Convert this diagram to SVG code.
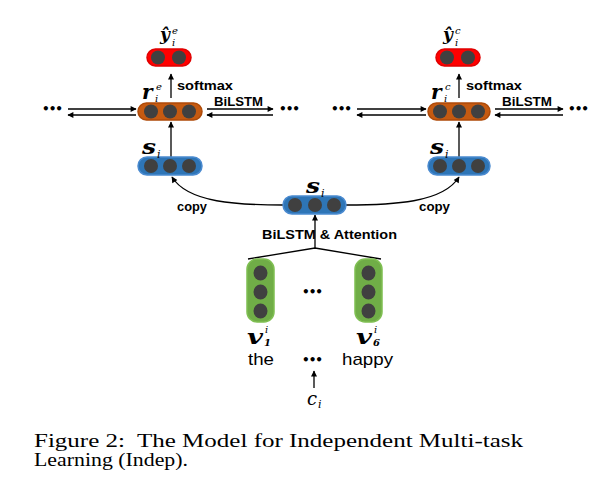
<svg xmlns="http://www.w3.org/2000/svg" width="599" height="492" viewBox="0 0 599 492">
<style>
.red{fill:#ff0000;stroke:#e00000;stroke-width:1.5}
.org{fill:#c55a11;stroke:#ae4a08;stroke-width:1.5}
.blu{fill:#2e75b6;stroke:#4a8ad0;stroke-width:1.5}
.grn{fill:#70ad47;stroke:#7fbf52;stroke-width:1.5}
.dot{fill:#404040}
.ln{stroke:#000;stroke-width:1.3;fill:none}
.lbl{font-family:"Liberation Sans",Arial,sans-serif;font-weight:bold;font-size:13px;fill:#000}
.word{font-family:"Liberation Sans",Arial,sans-serif;font-size:17px;fill:#000}
.m{font-family:"DejaVu Serif","Liberation Serif",serif;font-style:italic;font-weight:bold;fill:#000}
.mi{font-family:"DejaVu Serif","Liberation Serif",serif;font-style:italic;fill:#000}
.ell{font-family:"DejaVu Sans",sans-serif;font-weight:bold;font-size:12px;fill:#000}
.cap{font-family:"Liberation Serif","Times New Roman",serif;font-size:18px;fill:#000}
</style>
<defs>
<marker id="ah" viewBox="0 0 10 10" refX="9" refY="5" markerWidth="7" markerHeight="6" markerUnits="userSpaceOnUse" orient="auto">
<path d="M0,0 L10,5 L0,10 z" fill="#000"/>
</marker>
</defs>
<rect width="599" height="492" fill="#fff"/>

<g id="connectors">
<path class="ln" d="M171,98 L171,74" marker-end="url(#ah)"/>
<path class="ln" d="M459,98 L459,74" marker-end="url(#ah)"/>
<path class="ln" d="M171,157 L171,122" marker-end="url(#ah)"/>
<path class="ln" d="M459,157 L459,122" marker-end="url(#ah)"/>
<path class="ln" d="M68,109 L136,109" marker-end="url(#ah)"/>
<path class="ln" d="M136,115 L68,115" marker-end="url(#ah)"/>
<path class="ln" d="M207,109 L273,109" marker-end="url(#ah)"/>
<path class="ln" d="M273,115 L207,115" marker-end="url(#ah)"/>
<path class="ln" d="M357,109 L426,109" marker-end="url(#ah)"/>
<path class="ln" d="M426,115 L357,115" marker-end="url(#ah)"/>
<path class="ln" d="M495,109 L563,109" marker-end="url(#ah)"/>
<path class="ln" d="M563,115 L495,115" marker-end="url(#ah)"/>
<path class="ln" d="M283,205 C238,205 188,203 172,177" marker-end="url(#ah)"/>
<path class="ln" d="M346,205 C392,205 443,203 459,177" marker-end="url(#ah)"/>
<path class="ln" d="M315,248 L315,215" marker-end="url(#ah)"/>
<path class="ln" d="M248,259 L315,248 L381,259"/>
<path class="ln" d="M314,388 L314,371" marker-end="url(#ah)"/>
</g>

<g id="y_e">
<rect class="red" x="147" y="49" width="44" height="17" rx="8.5"/>
<circle class="dot" cx="158" cy="57.5" r="7"/>
<circle class="dot" cx="179" cy="57.5" r="7"/>
<text class="m" x="160" y="40" font-size="17">ŷ</text>
<text class="mi" x="172" y="34" font-size="10">e</text>
<text class="mi" x="172" y="46" font-size="10">i</text>
</g>
<g id="y_c">
<rect class="red" x="436" y="49" width="44" height="17" rx="8.5"/>
<circle class="dot" cx="447" cy="57.5" r="7"/>
<circle class="dot" cx="468" cy="57.5" r="7"/>
<text class="m" x="443" y="40" font-size="17">ŷ</text>
<text class="mi" x="455" y="34" font-size="10">c</text>
<text class="mi" x="455" y="46" font-size="10">i</text>
</g>

<g id="r_e">
<rect class="org" x="138" y="103" width="64" height="17" rx="8.5"/>
<circle class="dot" cx="151" cy="111.5" r="7"/>
<circle class="dot" cx="170" cy="111.5" r="7"/>
<circle class="dot" cx="189" cy="111.5" r="7"/>
<text class="m" x="142" y="99" font-size="20">r</text>
<text class="mi" x="156" y="90" font-size="10">e</text>
<text class="mi" x="155" y="102" font-size="10">i</text>
<text class="lbl" x="177" y="90" textLength="56" lengthAdjust="spacingAndGlyphs">softmax</text>
<text class="ell" x="42" y="113" textLength="21" lengthAdjust="spacing">•••</text>
<text class="lbl" x="214" y="106" textLength="49" lengthAdjust="spacingAndGlyphs">BiLSTM</text>
<text class="ell" x="279" y="113" textLength="21" lengthAdjust="spacing">•••</text>
</g>
<g id="r_c">
<rect class="org" x="428" y="103" width="62" height="17" rx="8.5"/>
<circle class="dot" cx="440" cy="111.5" r="7"/>
<circle class="dot" cx="459" cy="111.5" r="7"/>
<circle class="dot" cx="478" cy="111.5" r="7"/>
<text class="m" x="431" y="99" font-size="20">r</text>
<text class="mi" x="445" y="90" font-size="10">c</text>
<text class="mi" x="444" y="102" font-size="10">i</text>
<text class="lbl" x="466" y="90" textLength="56" lengthAdjust="spacingAndGlyphs">softmax</text>
<text class="ell" x="331" y="113" textLength="21" lengthAdjust="spacing">•••</text>
<text class="lbl" x="502" y="106" textLength="50" lengthAdjust="spacingAndGlyphs">BiLSTM</text>
<text class="ell" x="568" y="113" textLength="21" lengthAdjust="spacing">•••</text>
</g>

<g id="s_left">
<rect class="blu" x="138" y="157" width="64" height="18" rx="9"/>
<circle class="dot" cx="151" cy="166" r="7"/>
<circle class="dot" cx="170" cy="166" r="7"/>
<circle class="dot" cx="189" cy="166" r="7"/>
<text class="m" x="142" y="154" font-size="20" textLength="14" lengthAdjust="spacingAndGlyphs">s</text>
<text class="mi" x="157" y="158" font-size="11">i</text>
</g>
<g id="s_right">
<rect class="blu" x="428" y="157" width="62" height="18" rx="9"/>
<circle class="dot" cx="440" cy="166" r="7"/>
<circle class="dot" cx="459" cy="166" r="7"/>
<circle class="dot" cx="478" cy="166" r="7"/>
<text class="m" x="430" y="154" font-size="20" textLength="14" lengthAdjust="spacingAndGlyphs">s</text>
<text class="mi" x="445" y="158" font-size="11">i</text>
</g>
<g id="s_mid">
<rect class="blu" x="283" y="196" width="63" height="18" rx="9"/>
<circle class="dot" cx="295" cy="205" r="7"/>
<circle class="dot" cx="315" cy="205" r="7"/>
<circle class="dot" cx="334" cy="205" r="7"/>
<text class="m" x="306" y="193" font-size="20" textLength="14" lengthAdjust="spacingAndGlyphs">s</text>
<text class="mi" x="321" y="197" font-size="11">i</text>
<text class="lbl" x="177" y="211" textLength="30" lengthAdjust="spacingAndGlyphs">copy</text>
<text class="lbl" x="419" y="211" textLength="31" lengthAdjust="spacingAndGlyphs">copy</text>
<text class="lbl" x="262" y="239" textLength="135" lengthAdjust="spacingAndGlyphs">BiLSTM &amp; Attention</text>
</g>

<g id="v1">
<rect class="grn" x="247" y="259" width="27" height="63" rx="10"/>
<ellipse class="dot" cx="260.5" cy="273" rx="7" ry="7.5"/>
<ellipse class="dot" cx="260.5" cy="292" rx="7" ry="7.5"/>
<ellipse class="dot" cx="260.5" cy="311" rx="7" ry="7.5"/>
<text class="m" x="247" y="344" font-size="20" textLength="16" lengthAdjust="spacingAndGlyphs">v</text>
<text class="mi" x="265" y="333" font-size="10">i</text>
<text class="m" x="264" y="346" font-size="10" font-style="normal">1</text>
<text class="word" x="248" y="365" textLength="26" lengthAdjust="spacingAndGlyphs">the</text>
</g>
<g id="v6">
<rect class="grn" x="355" y="259" width="27" height="63" rx="10"/>
<ellipse class="dot" cx="368.5" cy="273" rx="7" ry="7.5"/>
<ellipse class="dot" cx="368.5" cy="292" rx="7" ry="7.5"/>
<ellipse class="dot" cx="368.5" cy="311" rx="7" ry="7.5"/>
<text class="m" x="356" y="344" font-size="20" textLength="16" lengthAdjust="spacingAndGlyphs">v</text>
<text class="mi" x="374" y="333" font-size="10">i</text>
<text class="m" x="373" y="346" font-size="10" font-style="normal">6</text>
<text class="word" x="342" y="365" textLength="51" lengthAdjust="spacingAndGlyphs">happy</text>
</g>
<g id="mid_dots">
<text class="ell" x="302" y="296" textLength="21" lengthAdjust="spacing">•••</text>
<text class="ell" x="302" y="364" textLength="21" lengthAdjust="spacing">•••</text>
</g>
<g id="c_i">
<text class="mi" x="307" y="405" font-size="18">c</text>
<text class="mi" x="318" y="408" font-size="11">i</text>
</g>

<g id="caption">
<text class="cap" x="34" y="447" textLength="489" lengthAdjust="spacingAndGlyphs" xml:space="preserve">Figure 2:  The Model for Independent Multi-task</text>
<text class="cap" x="34" y="466" textLength="154" lengthAdjust="spacingAndGlyphs">Learning (Indep).</text>
</g>
</svg>
